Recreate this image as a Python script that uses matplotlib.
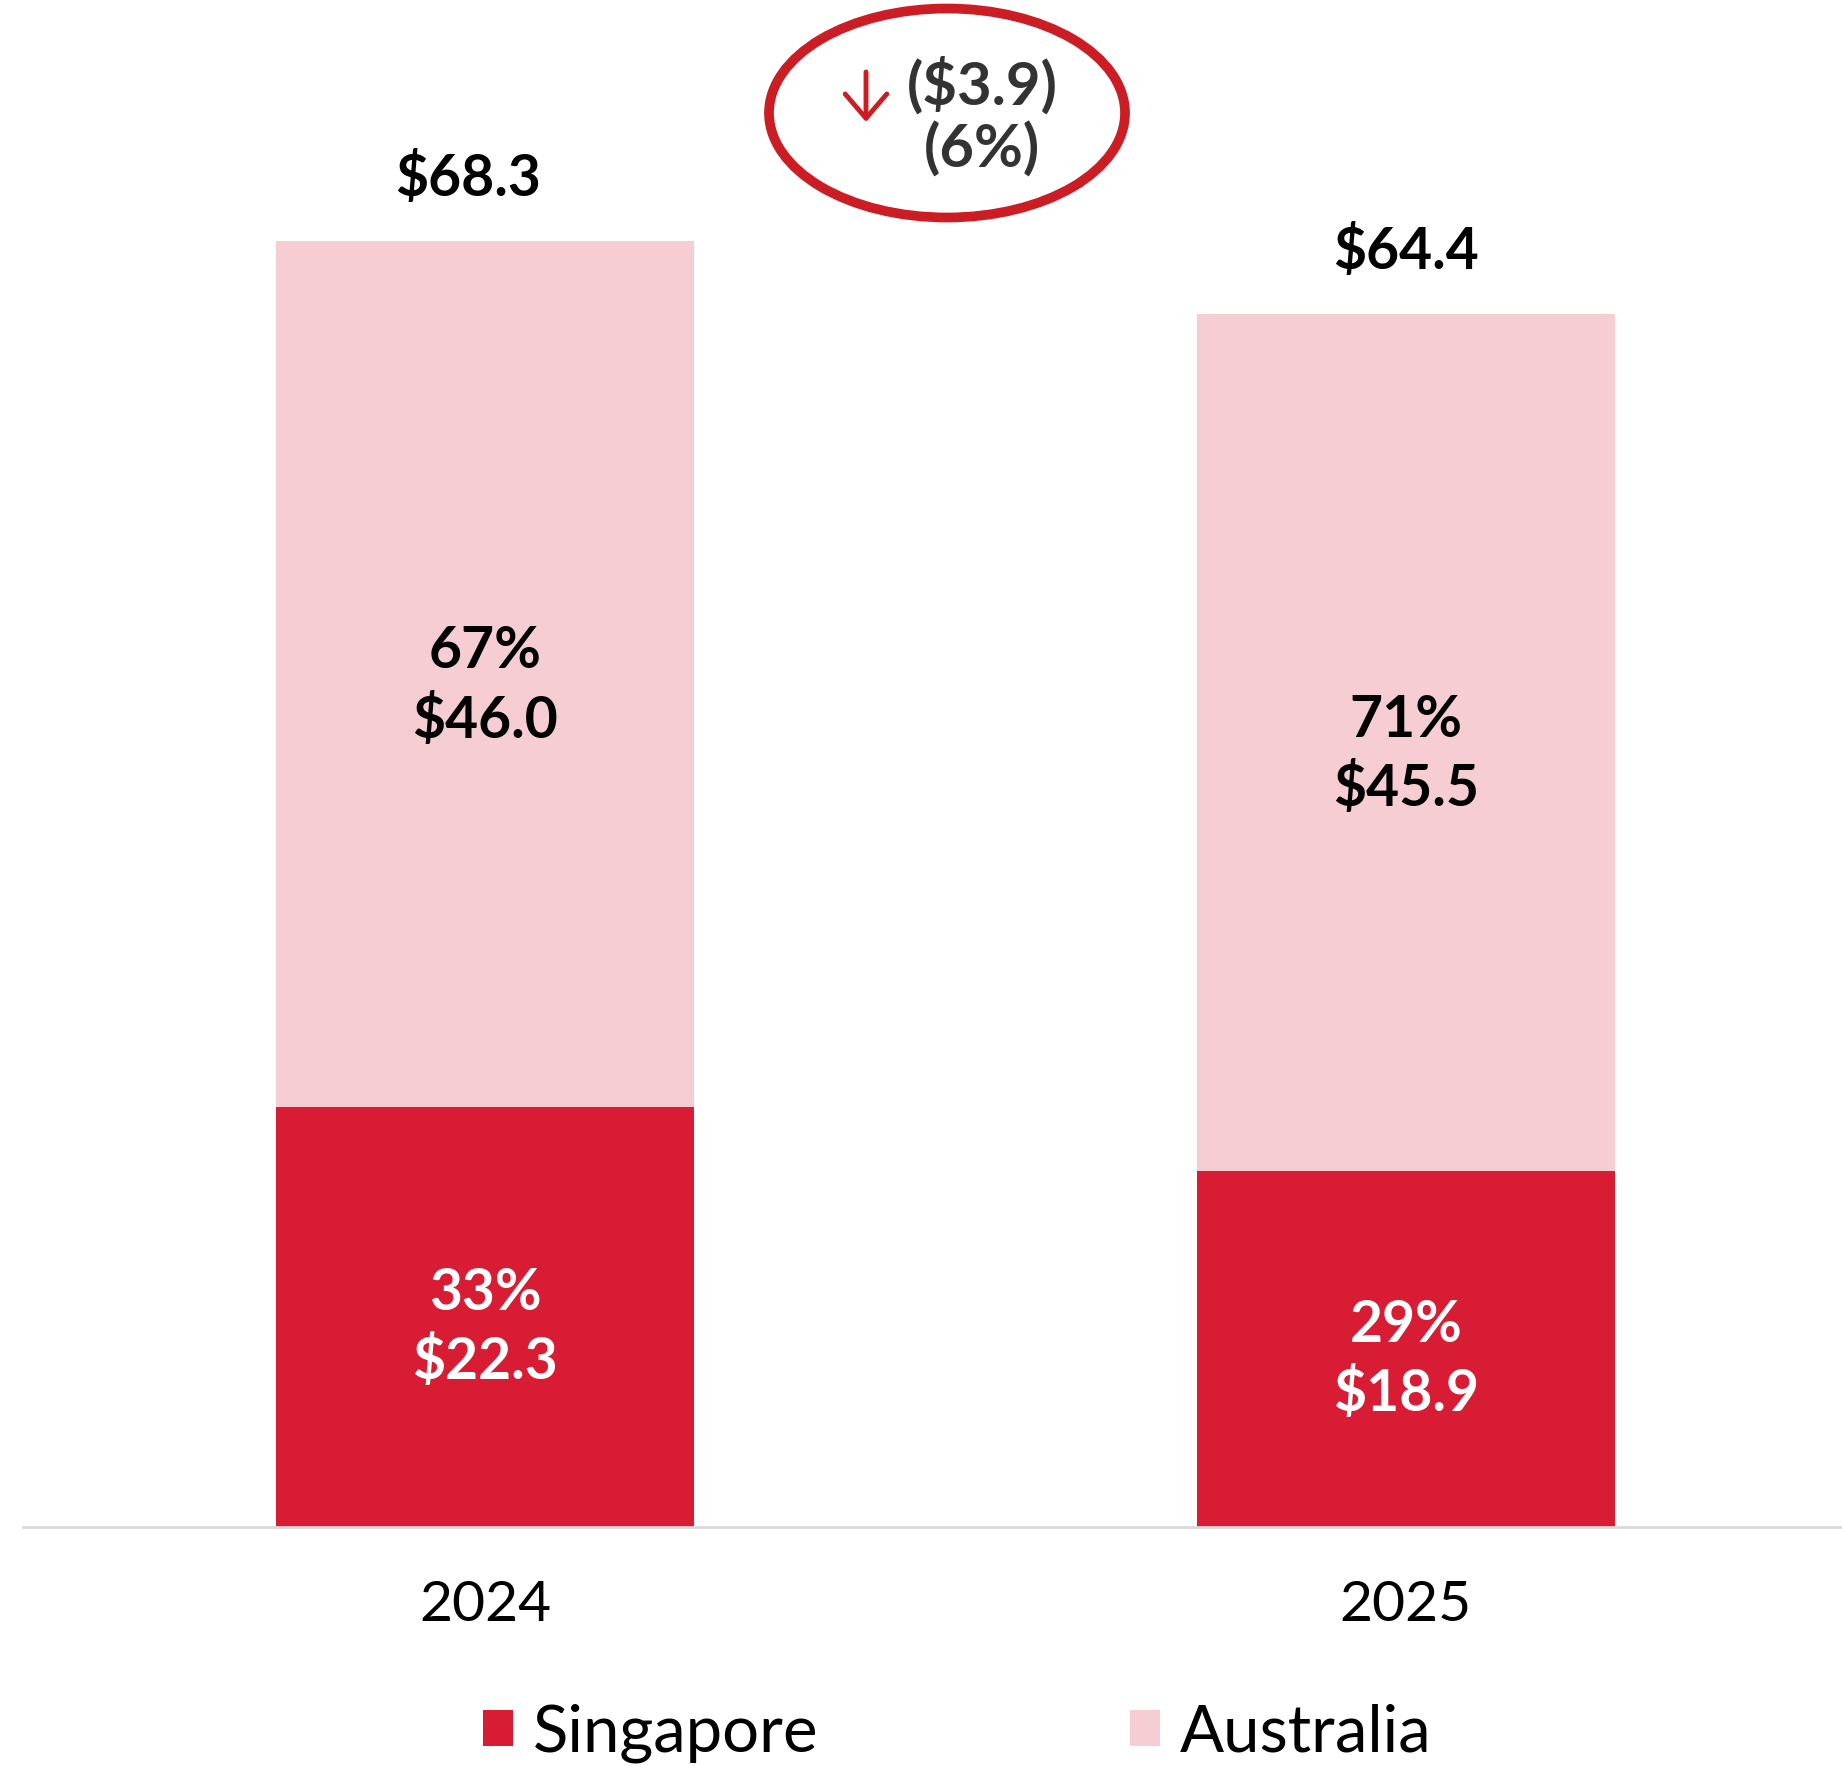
import matplotlib
matplotlib.use("Agg")
from matplotlib import pyplot as plt
from matplotlib.patches import Ellipse
import numpy as np

plt.rcParams['font.family'] = ['Lato', 'DejaVu Sans']

years = ["2024", "2025"]
singapore = [22.3, 18.9]
australia = [46.0, 45.5]
totals = [68.3, 64.4]
sing_pct = ["33%", "29%"]
aus_pct = ["67%", "71%"]
change_val = "($3.9)"
change_pct = "(6%)"

red = "#D71C33"
pink = "#F7CDD4"

W, H = 1842, 1766
fig = plt.figure(figsize=(W / 100, H / 100), dpi=100)
ax = fig.add_axes([23 / W, 239 / H, 1819 / W, 1527 / H])

x = np.arange(len(years))
ax.bar(x, singapore, width=0.454, color=red, label="Singapore")
ax.bar(x, australia, width=0.454, bottom=singapore, color=pink, label="Australia")

ax.set_xlim(-0.5016, 1.4734)
ax.set_ylim(0, 81.1)

total_dx = [-0.018, 0.0]  # 2024 total sits a bit left in the original
for i in range(len(years)):
    s = singapore[i]
    a = australia[i]
    ax.annotate(sing_pct[i] + "\n" + "$%.1f" % s, (x[i], s / 2), xytext=(0, -8),
                textcoords="offset points", ha="center", va="center",
                color="white", fontsize=41, fontweight="bold", linespacing=1.35)
    ax.annotate(aus_pct[i] + "\n" + "$%.1f" % a, (x[i], s + a / 2), xytext=(0, -9),
                textcoords="offset points", ha="center", va="center",
                color="black", fontsize=41, fontweight="bold", linespacing=1.35)
    ax.text(x[i] + total_dx[i], totals[i] + 3.3, "$%.1f" % totals[i], ha="center", va="center",
            color="black", fontsize=41, fontweight="bold")

for sp in ["top", "right", "left"]:
    ax.spines[sp].set_visible(False)
ax.spines["bottom"].set_color("#D9D9D9")
ax.spines["bottom"].set_linewidth(2)
ax.set_yticks([])
ax.set_xticks(x)
ax.set_xticklabels(years, fontsize=41)
ax.tick_params(axis="x", length=0, pad=38)

# change callout
ell = Ellipse((947 / W, 1 - 113 / H), 356 / W, 209 / H, transform=fig.transFigure,
              fill=False, edgecolor="#CC1D24", linewidth=7)
fig.add_artist(ell)
fig.text(982 / W, 1 - 85 / H, change_val, ha="center", va="center", color="#333333",
         fontsize=43, fontweight="bold")
fig.text(982 / W, 1 - 150 / H, change_pct, ha="center", va="center", color="#333333",
         fontsize=43, fontweight="bold")
ax.annotate("", xy=(866, H - 122), xytext=(866, H - 72), xycoords="figure pixels",
            textcoords="figure pixels",
            arrowprops=dict(arrowstyle="->,head_length=0.7,head_width=0.6", color="#CC1D24",
                            lw=3.5, mutation_scale=25, shrinkA=0, shrinkB=0))

fig.legend(loc="center", bbox_to_anchor=(0.5196, 1 - 1733 / H), ncol=2, frameon=False,
           fontsize=47, handlelength=0.46, handleheight=0.46, handletextpad=0.3,
           columnspacing=4.78)

fig.savefig("out.png", dpi=100)
